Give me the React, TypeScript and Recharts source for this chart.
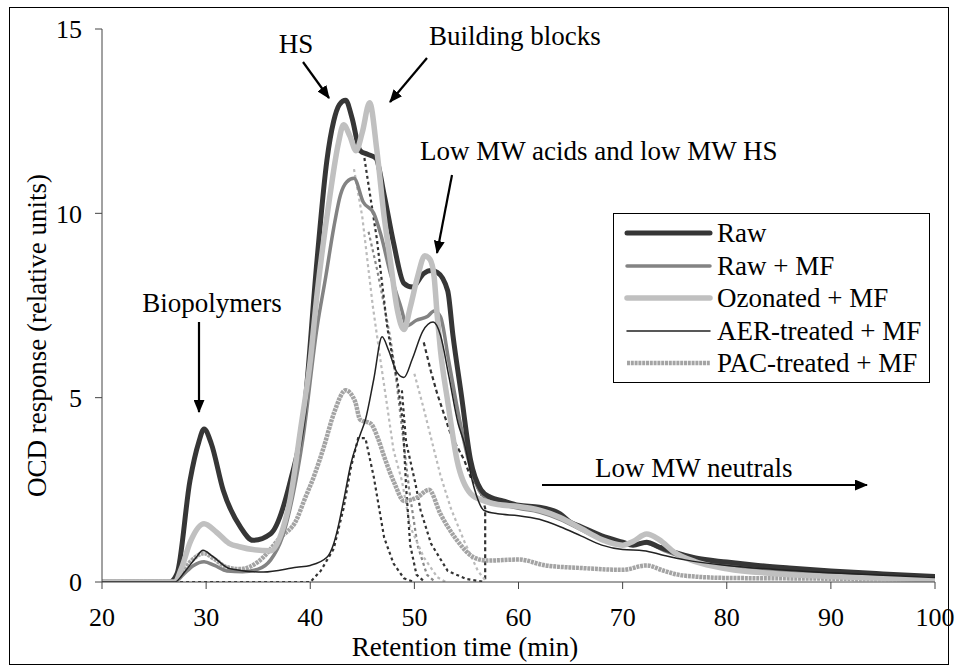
import React from 'react';
import { LineChart, Line, XAxis, YAxis, Legend } from 'recharts';

const FONT = "'Liberation Serif', Tinos, 'Noto Serif', 'DejaVu Serif', 'Times New Roman', Times, serif";

// retention time (min) / OCD response (relative units)
const rawT = [20, 26.5, 27.2, 28.45, 29.3, 29.8, 30.5, 31.65, 33.3, 34.5, 36.2, 38.1, 39.4, 40.65, 41.6, 42.25, 42.8, 43.4, 44.0, 44.8, 45.5, 46.3, 47.1, 48.0, 49.0, 49.8, 50.9, 51.6, 52.2, 53.2, 53.7, 54.5, 55.4, 56.4, 57.3, 58.5, 60, 62, 64, 65, 66, 68, 70, 71, 72.3, 73.5, 75, 77, 80, 83, 86, 90, 95, 100];
const rawY = [0, 0, 0.22, 2.75, 3.8, 4.15, 3.75, 2.48, 1.49, 1.13, 1.31, 2.75, 4.57, 8.73, 11.44, 12.5, 12.95, 13.07, 12.6, 11.7, 11.6, 11.5, 10.5, 9.2, 8.1, 8.0, 8.37, 8.45, 8.4, 7.9, 6.7, 5.1, 3.3, 2.5, 2.3, 2.2, 2.08, 2.03, 1.85, 1.62, 1.5, 1.25, 1.08, 1.0, 1.08, 0.95, 0.8, 0.65, 0.54, 0.45, 0.38, 0.3, 0.22, 0.15];

const rawMfT = [20, 27, 27.8, 28.8, 29.8, 30.8, 32, 33.5, 35, 36.2, 37.3, 38.3, 39.3, 40.65, 41.5, 42.25, 42.9, 43.5, 44.2, 45.1, 46.1, 46.75, 47.7, 48.7, 49.3, 50.2, 51.25, 51.9, 52.5, 53.3, 54.2, 55.2, 56.2, 57.3, 58.5, 60, 62, 64, 66, 68, 70, 72.3, 74, 76, 80, 85, 90, 95, 100];
const rawMfY = [0, 0, 0.2, 0.45, 0.55, 0.45, 0.3, 0.28, 0.35, 0.6, 1.2, 2.3, 3.9, 6.9, 8.3, 9.6, 10.5, 10.85, 10.95, 10.3, 10.0, 9.45, 8.37, 7.46, 6.95, 7.1, 7.2, 7.35, 7.2, 6.0, 4.6, 3.3, 2.5, 2.2, 2.1, 2.0, 1.9, 1.7, 1.42, 1.15, 1.0, 1.05, 0.85, 0.65, 0.45, 0.32, 0.24, 0.18, 0.12];

const ozT = [20, 27, 27.6, 28.5, 29.8, 31, 32.2, 33.3, 34.5, 36.2, 37.2, 38.1, 39.05, 40.0, 40.65, 41.9, 42.7, 43.2, 43.8, 44.4, 45.0, 45.7, 46.4, 47.1, 47.7, 48.35, 49.0, 49.6, 50.3, 51.0, 51.5, 51.9, 52.2, 52.5, 53.2, 54.1, 55.4, 56.7, 58, 60, 62, 64, 66, 68, 70, 71, 72.3, 73.5, 75, 77, 80, 85, 90, 95, 100];
const ozY = [0, 0, 0.35, 1.1, 1.58, 1.35, 1.05, 0.95, 0.88, 0.85, 1.3, 2.3, 4.1, 6.0, 7.8, 10.5, 11.9, 12.4, 12.1, 11.7, 12.2, 13.0, 11.7, 9.9, 8.7, 7.4, 6.85, 7.45, 8.27, 8.85, 8.75, 8.27, 7.2, 6.3, 4.9, 3.3, 2.4, 2.2, 2.1, 2.05, 1.95, 1.75, 1.45, 1.15, 1.0, 1.1, 1.3, 1.15, 0.8, 0.55, 0.36, 0.22, 0.15, 0.1, 0.06];

const aerT = [20, 27, 28, 29, 29.7, 30.6, 32.3, 35.5, 38.7, 40, 41.6, 42.25, 42.6, 43.2, 43.9, 44.8, 45.3, 46.1, 46.9, 47.5, 48.3, 49.0, 49.8, 50.8, 51.8, 52.5, 53.3, 54.2, 54.8, 55.6, 56.7, 58, 60, 62, 64, 66, 68, 70, 72, 74, 76, 80, 85, 90, 95, 100];
const aerY = [0, 0, 0.3, 0.65, 0.86, 0.7, 0.36, 0.27, 0.4, 0.45, 0.67, 1.04, 1.4, 2.2, 3.2, 4.0, 4.4, 5.5, 6.65, 6.3, 5.7, 5.55, 6.05, 6.8, 7.05, 6.7, 5.6, 4.3, 3.76, 2.7, 1.94, 1.85, 1.8, 1.7, 1.5, 1.25, 1.0, 0.88, 0.85, 0.72, 0.6, 0.45, 0.33, 0.25, 0.18, 0.12];

const pacT = [20, 26.5, 27.5, 28.5, 29.8, 30.8, 32, 33.3, 35, 37.1, 38.7, 39.4, 40.4, 41.3, 42.3, 43.4, 44.3, 44.8, 45.8, 46.5, 47.1, 48.1, 49.0, 50.3, 51.4, 52.5, 54.1, 55.7, 57, 60, 62.6, 66, 70, 72.3, 74, 75.7, 80, 85, 90, 95, 100];
const pacY = [0, 0, 0.2, 0.55, 0.78, 0.62, 0.4, 0.35, 0.55, 1.2, 1.7, 2.2, 2.9, 3.66, 4.6, 5.2, 4.9, 4.4, 4.3, 3.9, 3.4, 2.67, 2.2, 2.3, 2.5, 1.85, 1.13, 0.67, 0.58, 0.61, 0.45, 0.38, 0.33, 0.45, 0.3, 0.18, 0.11, 0.1, 0.09, 0.08, 0.08];

// fraction boundaries (dashed)
const fracRawHsT = [45.2, 45.8, 46.4, 46.9, 47.4, 47.9, 48.4, 48.9, 49.2, 49.6, 50.2, 51];
const fracRawHsY = [11.5, 10.4, 9.3, 8.1, 6.9, 6.1, 5.4, 4.3, 2.6, 1.0, 0.2, 0];
const fracOzHsT = [44.2, 45.0, 45.5, 46.0, 46.75, 47.4, 48.0, 48.8, 49.6, 50.9, 52.2, 53];
const fracOzHsY = [11.2, 9.9, 8.7, 7.5, 6.0, 4.75, 3.57, 2.75, 1.5, 0.67, 0.13, 0];
const fracMfHsT = [45.6, 46.4, 47.1, 47.7, 48.3, 48.8, 49.5, 50.3, 51.2, 52];
const fracMfHsY = [9.5, 8.5, 7.5, 6.6, 5.4, 4.2, 2.5, 1.0, 0.2, 0];
const fracAerHsT = [27.5, 40, 41, 42.25, 43.2, 43.9, 44.6, 45.3, 46.1, 47.1, 48, 49, 50];
const fracAerHsY = [0, 0, 0.3, 0.9, 2.0, 3.1, 3.9, 3.9, 2.85, 1.2, 0.5, 0.1, 0];
const fracAcidT = [48.8, 49.2, 49.6, 50.1, 50.6, 51.6, 53.2, 55, 56.8];
const fracAcidY = [5.2, 3.8, 3.3, 2.67, 1.94, 1.04, 0.3, 0.08, 0];
const fracRawAcidT = [50.9, 51.6, 52.2, 53.5, 54.8, 55.4, 56.4, 56.8, 56.8];
const fracRawAcidY = [6.5, 5.7, 5.1, 4.0, 3.3, 2.85, 2.4, 2.0, 0];
const fracOzAcidT = [50, 50.9, 51.9, 52.5, 53.5, 54.8, 56.1, 56.8];
const fracOzAcidY = [5.65, 4.7, 3.57, 2.9, 2.0, 1.1, 0.3, 0.05];

const xTicks = [20, 30, 40, 50, 60, 70, 80, 90, 100];
const yTicks = [0, 5, 10, 15];

const pts = (t: number[], y: number[]) => t.map((x, i) => ({ x, y: y[i] }));

const samples = [
  { name: 'Raw', data: pts(rawT, rawY), color: '#363636', width: 5, dash: undefined },
  { name: 'Raw + MF', data: pts(rawMfT, rawMfY), color: '#838383', width: 3.5, dash: undefined },
  { name: 'Ozonated + MF', data: pts(ozT, ozY), color: '#c0c0c0', width: 5.5, dash: undefined },
  { name: 'AER-treated + MF', data: pts(aerT, aerY), color: '#222222', width: 1.5, dash: undefined },
  { name: 'PAC-treated + MF', data: pts(pacT, pacY), color: '#a4a4a4', width: 4.5, dash: '3 0.8' },
];

const fractions = [
  { data: pts(fracAerHsT, fracAerHsY), color: '#333', dash: '3 3' },
  { data: pts(fracAcidT, fracAcidY), color: '#333', dash: '3 3' },
  { data: pts(fracRawAcidT, fracRawAcidY), color: '#333', dash: '4 3' },
  { data: pts(fracOzAcidT, fracOzAcidY), color: '#bbb', dash: '3 3' },
  { data: pts(fracMfHsT, fracMfHsY), color: '#888', dash: '3 3' },
  { data: pts(fracOzHsT, fracOzHsY), color: '#bbb', dash: '3 3' },
  { data: pts(fracRawHsT, fracRawHsY), color: '#333', dash: '3 3' },
];

// draw order: PAC under, AER on top
const drawOrder = [4, 1, 0, 2, 3];

const LegendBox = () => (
  <div style={{ width: 317, height: 170, border: '1px solid #000', background: '#fff', boxSizing: 'border-box', fontFamily: FONT, fontSize: 27, color: '#000' }}>
    {samples.map((s, i) => (
      <div key={s.name} style={{ position: 'absolute', left: 0, top: 4 + i * 32.5, height: 32, display: 'flex', alignItems: 'center', whiteSpace: 'nowrap' }}>
        <svg width={104} height={32}>
          <line x1={14} x2={97} y1={16} y2={16} stroke={s.color} strokeWidth={s.width} strokeDasharray={s.dash} strokeLinecap={s.dash ? 'butt' : 'round'} />
        </svg>
        <span style={{ lineHeight: '32px' }}>{s.name}</span>
      </div>
    ))}
  </div>
);

const YTitle = (props: any) => {
  const vb = props.viewBox || { x: 0, y: 29, width: 102, height: 553 };
  const x = vb.x + 37;
  const y = vb.y + vb.height / 2 + 30;
  return (
    <text x={x} y={y} transform={`rotate(-90, ${x}, ${y})`} textAnchor="middle" dominantBaseline="central" fontFamily={FONT} fontSize={27} fill="#000">
      OCD response (relative units)
    </text>
  );
};

const XTitle = (props: any) => {
  const vb = props.viewBox || { x: 102, y: 582, width: 832, height: 87 };
  return (
    <text x={vb.x + 363} y={vb.y + 74} textAnchor="middle" fontFamily={FONT} fontSize={27} fill="#000">
      Retention time (min)
    </text>
  );
};

const Arrow = ({ x1, y1, x2, y2 }: { x1: number; y1: number; x2: number; y2: number }) => (
  <line x1={x1} y1={y1} x2={x2} y2={y2} stroke="#000" strokeWidth={2.2} markerEnd="url(#head)" />
);

const Notes = () => (
  <svg width={956} height={669} style={{ position: 'absolute', left: 0, top: 0, pointerEvents: 'none' }}>
    <defs>
      <marker id="head" markerWidth="6" markerHeight="5" refX="5.5" refY="2.5" orient="auto" markerUnits="strokeWidth">
        <path d="M0,0 L6,2.5 L0,5 Z" fill="#000" />
      </marker>
    </defs>
    <g fontFamily={FONT} fontSize={27} fill="#000">
      <text x={212} y={312} textAnchor="middle">Biopolymers</text>
      <text x={296} y={53} textAnchor="middle">HS</text>
      <text x={515} y={45} textAnchor="middle">Building blocks</text>
      <text x={420} y={160}>Low MW acids and low MW HS</text>
      <text x={595} y={477}>Low MW neutrals</text>
    </g>
    <Arrow x1={199} y1={322} x2={199} y2={412} />
    <Arrow x1={303} y1={62} x2={329} y2={98} />
    <Arrow x1={427} y1={58} x2={390} y2={102} />
    <Arrow x1={452} y1={175} x2={437} y2={253} />
    <Arrow x1={542} y1={485} x2={867} y2={485} />
  </svg>
);

export default function App() {
  return (
    <div style={{ position: 'absolute', left: 0, top: 0, width: 956, height: 669, background: '#fff', fontFamily: FONT }}>
      <div style={{ position: 'absolute', left: 9, top: 7, width: 940, height: 658, border: '1px solid #000', boxSizing: 'border-box' }} />
      <LineChart width={956} height={669} margin={{ top: 29, right: 21, bottom: 0, left: 0 }} style={{ fontFamily: FONT }}>
        <XAxis
          dataKey="x"
          type="number"
          domain={[20, 100]}
          ticks={xTicks}
          allowDataOverflow
          height={87}
          tickSize={7}
          tickMargin={19}
          stroke="#444"
          tick={{ fill: '#000', fontSize: 26, fontFamily: FONT }}
          label={<XTitle />}
        />
        <YAxis
          type="number"
          domain={[0, 15]}
          ticks={yTicks}
          allowDataOverflow
          width={102}
          tickSize={7}
          tickMargin={13}
          stroke="#444"
          tick={{ fill: '#000', fontSize: 26, fontFamily: FONT }}
          label={<YTitle />}
        />
        <Legend layout="vertical" align="center" verticalAlign="middle" content={<LegendBox />} wrapperStyle={{ left: 613, top: 213, width: 317, height: 170 }} />
        {fractions.map((f, i) => (
          <Line key={`frac-${i}`} data={f.data} dataKey="y" type="linear" dot={false} stroke={f.color} strokeWidth={2.2} strokeDasharray={f.dash} legendType="none" isAnimationActive={false} />
        ))}
        {drawOrder.map((k) => {
          const s = samples[k];
          return (
            <Line key={s.name} name={s.name} data={s.data} dataKey="y" type="monotone" dot={false} stroke={s.color} strokeWidth={s.width} strokeDasharray={s.dash} strokeLinejoin="round" isAnimationActive={false} />
          );
        })}
      </LineChart>
      <Notes />
    </div>
  );
}
